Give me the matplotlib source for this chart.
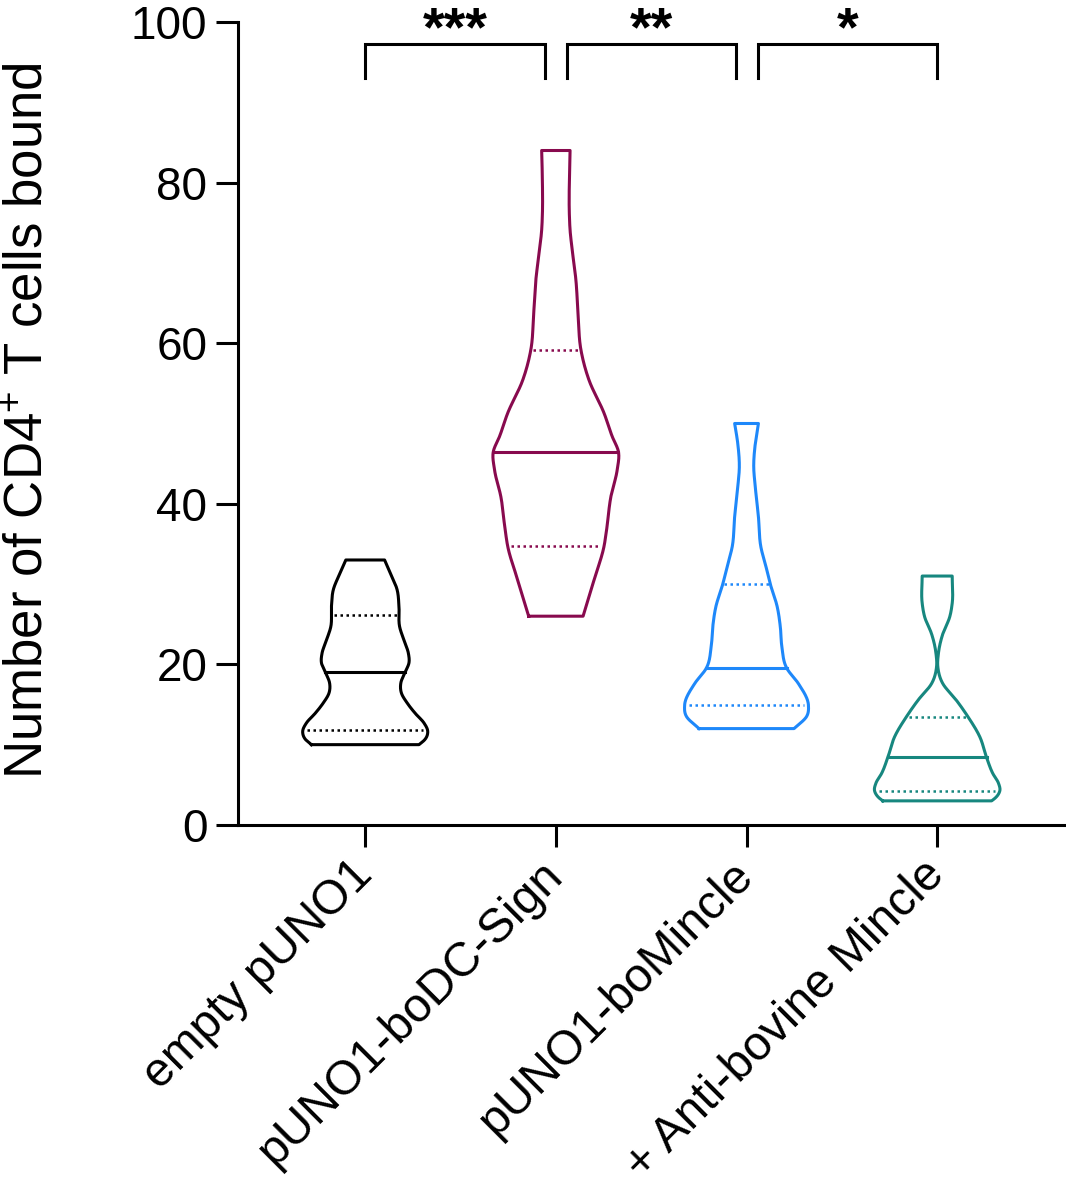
import numpy as np
import matplotlib.pyplot as plt

plt.rcParams['font.family'] = ['Liberation Sans', 'DejaVu Sans']
plt.rcParams['mathtext.fontset'] = 'custom'
plt.rcParams['mathtext.rm'] = 'Liberation Sans'
plt.rcParams['mathtext.default'] = 'regular'

# -----------------------------
# data
# -----------------------------
groups = ["empty pUNO1", "pUNO1-boDC-Sign", "pUNO1-boMincle", "+ Anti-bovine Mincle"]
colors = ["#000000", "#880A4E", "#1E88FA", "#17877F"]

medians = [19.0, 46.5, 19.5, 8.4]
q1 = [11.8, 34.7, 14.9, 4.2]
q3 = [26.2, 59.2, 30.0, 13.5]

# violin outline: value levels and relative width (1 = widest)
empty_y = [10.0, 10.6, 11.6, 12.7, 13.9, 15.2, 16.4, 17.7, 18.9, 20.2, 21.4, 23.0, 24.7, 27.2, 29.3, 31.4, 33.0]
empty_w = [0.86, 0.95, 1.00, 0.94, 0.80, 0.67, 0.58, 0.57, 0.63, 0.70, 0.69, 0.62, 0.55, 0.54, 0.51, 0.40, 0.31]

dcsign_y = [26.0, 30.5, 34.7, 36.7, 40.9, 44.2, 46.5, 48.4, 51.3, 55.4, 59.2, 63.7, 67.9, 72.0, 74.0, 76.2, 80.0, 84.0]
dcsign_w = [0.435, 0.61, 0.77, 0.81, 0.88, 0.98, 1.00, 0.90, 0.77, 0.53, 0.40, 0.355, 0.32, 0.255, 0.228, 0.215, 0.215, 0.227]

mincle_y = [12.0, 13.5, 14.9, 17.6, 19.5, 22.2, 24.7, 27.2, 30.0, 32.2, 34.6, 38.4, 42.1, 44.6, 47.5, 50.0]
mincle_w = [0.76, 0.96, 0.99, 0.83, 0.645, 0.565, 0.54, 0.49, 0.38, 0.31, 0.23, 0.19, 0.14, 0.115, 0.14, 0.19]

antib_y = [3.0, 3.3, 4.2, 5.2, 6.4, 8.4, 11.0, 13.5, 15.6, 17.6, 19.7, 21.4, 23.8, 25.9, 27.6, 31.0]
antib_w = [0.87, 0.92, 1.00, 0.98, 0.89, 0.79, 0.68, 0.49, 0.30, 0.09, 0.01, 0.02, 0.09, 0.20, 0.24, 0.24]

profiles = [(empty_y, empty_w), (dcsign_y, dcsign_w), (mincle_y, mincle_w), (antib_y, antib_w)]

# significance brackets
pairs = [(0, 1), (1, 2), (2, 3)]
stars = ["***", "**", "*"]


def outline(yy, ww, n=500):
  # cubic hermite through the read points, just to draw a smooth edge
  yy = np.asarray(yy, float)
  ww = np.asarray(ww, float)
  m = np.gradient(ww, yy)
  yf = np.linspace(yy[0], yy[-1], n)
  j = np.clip(np.searchsorted(yy, yf, side='right') - 1, 0, len(yy) - 2)
  h = yy[j+1] - yy[j]
  t = (yf - yy[j]) / h
  wf = ((2*t**3 - 3*t**2 + 1)*ww[j] + (t**3 - 2*t**2 + t)*h*m[j]
        + (-2*t**3 + 3*t**2)*ww[j+1] + (t**3 - t**2)*h*m[j+1])
  return yf, np.clip(wf, 0.004, None)


# -----------------------------
fig = plt.figure(figsize=(10.66, 11.98), dpi=100)
ax = fig.add_axes([0.2233, 0.3114, 0.7757, 0.6702])

half = 0.328   # half width of the widest violin, in category units
lw = 2.2

for i, (yy, ww) in enumerate(profiles):
  c = colors[i]
  yf, wf = outline(yy, ww)
  xl = i - half*wf
  xr = i + half*wf
  xs = np.concatenate([xl, xr[::-1], [xl[0]]])
  ys = np.concatenate([yf, yf[::-1], [yf[0]]])
  ax.plot(xs, ys, color=c, lw=lw, solid_joinstyle='round')

  # median (solid) and quartiles (dotted)
  wm = np.interp(medians[i], yf, wf)
  ax.plot([i - half*wm, i + half*wm], [medians[i]]*2, color=c, lw=lw)
  for q in (q1[i], q3[i]):
    wq = np.interp(q, yf, wf) * 0.93
    ax.plot([i - half*wq, i + half*wq], [q]*2, color=c, lw=1.8,
            linestyle=(0, (1, 1.4)))

# brackets
br_top = 97.3
br_bot = 93.0
gaps = [(0.0, -0.055), (0.06, -0.053), (0.06, 0.0)]
for (a, b), s, (ga, gb) in zip(pairs, stars, gaps):
  xa = a + ga
  xb = b + gb
  ax.plot([xa, xa, xb, xb], [br_bot, br_top, br_top, br_bot], color='black',
          lw=lw, clip_on=False, solid_joinstyle='miter')
  ax.text((xa + xb)/2, 97.1, s, ha='center', va='baseline', fontsize=40,
          fontweight='bold', clip_on=False)

ax.set_xlim(-0.667, 3.67)
ax.set_ylim(0, 100)
ax.set_yticks([0, 20, 40, 60, 80, 100])
ax.set_xticks(range(len(groups)))
ax.set_xticklabels(groups, rotation=45, ha='right', va='center', rotation_mode='anchor',
                   fontsize=34.5)

for sp in ('top', 'right'):
  ax.spines[sp].set_visible(False)
for sp in ('left', 'bottom'):
  ax.spines[sp].set_linewidth(lw)

ax.tick_params(axis='both', length=16, width=lw, pad=6)
ax.tick_params(axis='y', labelsize=33)
ax.tick_params(axis='x', pad=15)

ax.set_ylabel(r"Number of CD4$^{+}$ T cells bound", fontsize=38, va='center')
ax.yaxis.set_label_coords(-0.253, 0.504)

fig.savefig("out.png", dpi=100)
